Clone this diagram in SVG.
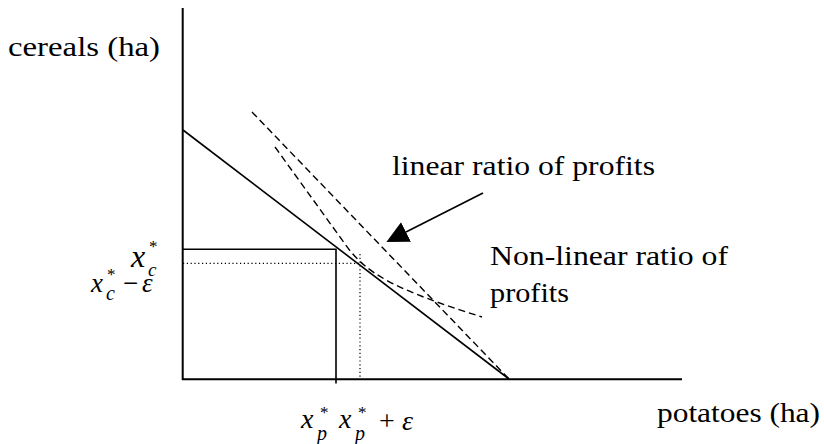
<svg xmlns="http://www.w3.org/2000/svg" width="824" height="444" viewBox="0 0 824 444" font-family="Liberation Serif, Times New Roman, serif">
<style>
text{fill:#000}
.t{font-size:27px}
.i{font-style:italic}
.ax{stroke:#000;stroke-width:2;fill:none}
.sol{stroke:#000;stroke-width:1.6;fill:none}
.dash{stroke:#000;stroke-width:1.4;fill:none;stroke-dasharray:7 4}
.dot{stroke:#000;stroke-width:1.2;fill:none;stroke-dasharray:1.2 2.6}
</style>
<defs>
<marker id="ah" markerUnits="userSpaceOnUse" markerWidth="22" markerHeight="22" viewBox="0 0 20 20" refX="0" refY="10" orient="auto">
<path d="M0,0 L20,10 L0,20 z" fill="#000"/>
</marker>
</defs>
<rect width="824" height="444" fill="#fff"/>
<g id="axes">
<line class="ax" x1="182.7" y1="8" x2="182.7" y2="380"/>
<line class="ax" x1="182" y1="379.3" x2="682" y2="379.3"/>
</g>
<g id="connectors">
<line class="sol" x1="183" y1="130" x2="509" y2="379"/>
<polyline class="sol" points="182,249.3 336,249.3 336,383.5"/>
<polyline class="dot" points="183,263.3 360,263.3"/>
<polyline class="dot" points="360,254 360,379"/>
<line class="dash" x1="252" y1="112" x2="509" y2="379"/>
<path class="dash" d="M275,147 L345,244 C366,274 396,290 482,317"/>
<line class="sol" x1="483" y1="193" x2="406" y2="232" marker-end="url(#ah)"/>
</g>
<g id="label-cereals"><text class="t" x="8" y="56" textLength="152" lengthAdjust="spacingAndGlyphs">cereals (ha)</text></g>
<g id="label-potatoes"><text class="t" x="657" y="422" textLength="163" lengthAdjust="spacingAndGlyphs">potatoes (ha)</text></g>
<g id="label-linear"><text class="t" x="392" y="175" textLength="263" lengthAdjust="spacingAndGlyphs">linear ratio of profits</text></g>
<g id="label-nonlinear">
<text class="t" x="490" y="265" textLength="238" lengthAdjust="spacingAndGlyphs">Non-linear ratio of</text>
<text class="t" x="490" y="302" textLength="79" lengthAdjust="spacingAndGlyphs">profits</text>
</g>
<g id="label-xc">
<text class="i" x="131" y="267" font-size="32">x</text>
<text x="149" y="252" font-size="17">*</text>
<text class="i" x="148" y="276" font-size="19">c</text>
</g>
<g id="label-xc-eps">
<text class="i" x="91" y="292" font-size="27">x</text>
<text x="107" y="280" font-size="17">*</text>
<text class="i" x="106" y="300" font-size="20">c</text>
<text x="123" y="292" font-size="27">−</text>
<text class="i" x="142" y="292" font-size="27">ε</text>
</g>
<g id="label-xp">
<text class="i" x="301" y="428" font-size="28">x</text>
<text x="320" y="418" font-size="17">*</text>
<text class="i" x="317" y="440" font-size="20">p</text>
</g>
<g id="label-xp-eps">
<text class="i" x="339" y="428" font-size="28">x</text>
<text x="358" y="418" font-size="17">*</text>
<text class="i" x="355" y="440" font-size="20">p</text>
<text x="379" y="430" font-size="28">+</text>
<text class="i" x="402" y="430" font-size="28">ε</text>
</g>
</svg>
